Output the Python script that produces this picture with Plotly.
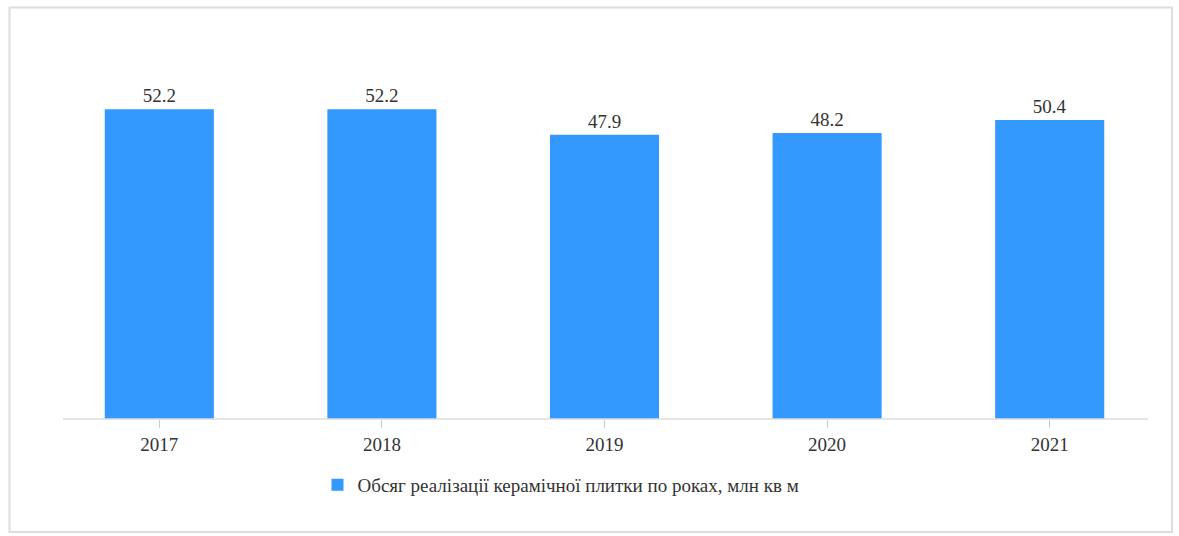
import plotly.graph_objects as go

years = ["2017", "2018", "2019", "2020", "2021"]
values = [52.2, 52.2, 47.9, 48.2, 50.4]
series_name = "Обсяг реалізації керамічної плитки по роках, млн кв м"

W, H = 1179, 536
L, R, T, B = 48, 18, 63, 117
pw, ph = W - L - R, H - T - B
FONT = "Liberation Serif, Times New Roman, serif"

def px(x):
    return (x - L) / pw

def py(y):
    return (H - B - y) / ph

fig = go.Figure()
fig.add_trace(go.Bar(
    x=years, y=values, name=series_name,
    marker=dict(color="#3399ff", line=dict(width=0)),
    text=[f"{v:.1f}" for v in values], textposition="outside",
    textfont=dict(family=FONT, size=19, color="#333333"),
    cliponaxis=False,
))

fig.update_layout(
    width=W, height=H,
    margin=dict(l=L, r=R, t=T, b=B),
    paper_bgcolor="white", plot_bgcolor="white",
    font=dict(family=FONT, size=19, color="#333333"),
    bargap=0.51,
    showlegend=True,
    legend=dict(orientation="h", x=px(561), xanchor="center", y=py(485), yanchor="middle",
                font=dict(family=FONT, size=19, color="#333333"),
                itemwidth=30),
    xaxis=dict(showgrid=False, showline=False, ticks="outside", ticklen=8,
               tickcolor="#cccccc", tickfont=dict(family=FONT, size=19, color="#333333")),
    yaxis=dict(range=[0, 60], visible=False),
    shapes=[
        dict(type="line", xref="paper", yref="paper", x0=px(63), x1=px(1148), y0=0, y1=0,
             line=dict(color="#dddddd", width=1.5)),
        dict(type="rect", xref="paper", yref="paper", x0=px(9.5), x1=px(1172), y0=py(532), y1=py(7.5),
             line=dict(color="#dddddd", width=2)),
    ],
)

fig.write_html("out.html")
